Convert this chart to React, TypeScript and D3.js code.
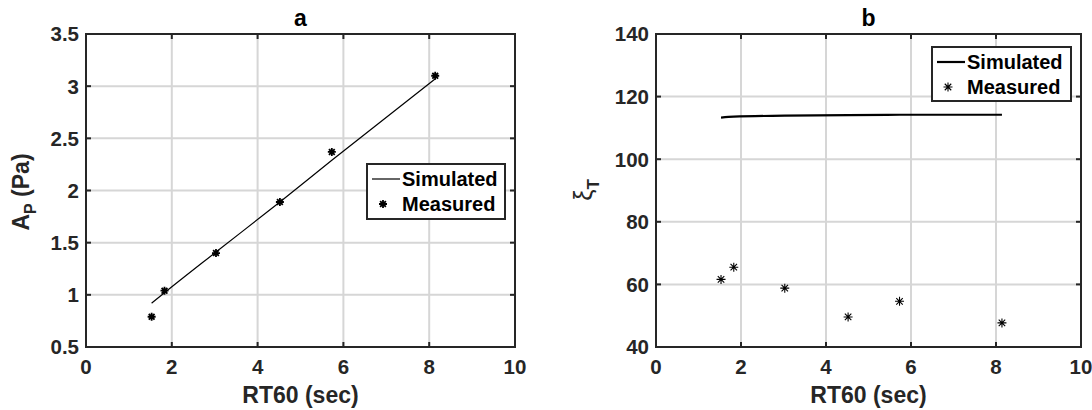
import React from 'react';
import * as d3 from 'd3';

// RT60 values (sec) shared by both panels
const rt60 = [1.53, 1.83, 3.03, 4.52, 5.73, 8.14];

// panel a: peak pressure amplitude (Pa)
const apMeasured = [0.79, 1.04, 1.40, 1.89, 2.37, 3.10];
const apSimulated = [0.92, 1.02, 1.41, 1.89, 2.29, 3.07];

// panel b: xi_T
const xiMeasured = [61.6, 65.5, 58.8, 49.6, 54.6, 47.7];
const xiSimulated = [113.3, 113.6, 113.9, 114.1, 114.2, 114.2];

const xTicks = [0, 2, 4, 6, 8, 10];
const apTicks = [0.5, 1, 1.5, 2, 2.5, 3, 3.5];
const xiTicks = [40, 60, 80, 100, 120, 140];

const FONT = '"Liberation Sans", Arial, Helvetica, sans-serif';
const INK = '#262626';

const star = (r: number) =>
  `M${-r},0H${r}M0,${-r}V${r}` +
  `M${-r * 0.72},${-r * 0.72}L${r * 0.72},${r * 0.72}` +
  `M${-r * 0.72},${r * 0.72}L${r * 0.72},${-r * 0.72}`;

type PanelProps = {
  left: number;
  right: number;
  title: string;
  yDomain: [number, number];
  yTicks: number[];
  yFmt: (v: number) => string;
  measured: number[];
  simulated: number[];
  lineWidth: number;
  markerR: number;
  markerW: number;
  legend: { x: number; y: number; w: number; h: number };
  yLabel: React.ReactNode;
};

const Panel = (p: PanelProps) => {
  const top = 34;
  const bottom = 347;
  const x = d3.scaleLinear().domain([0, 10]).range([p.left, p.right]);
  const y = d3.scaleLinear().domain(p.yDomain).range([bottom, top]);
  const line = d3
    .line<number>()
    .x((_, i) => x(rt60[i]))
    .y((d) => y(d))
    .curve(d3.curveMonotoneX);
  const tk = 5;
  const lg = p.legend;

  return (
    <g>
      {/* grid */}
      {xTicks.slice(1, -1).map((t) => (
        <line key={'gx' + t} x1={x(t)} x2={x(t)} y1={top} y2={bottom} stroke="#d6d6d6" strokeWidth={2} />
      ))}
      {p.yTicks.slice(1, -1).map((t) => (
        <line key={'gy' + t} x1={p.left} x2={p.right} y1={y(t)} y2={y(t)} stroke="#d6d6d6" strokeWidth={2} />
      ))}

      {/* data */}
      <path d={line(p.simulated) || ''} fill="none" stroke="#000" strokeWidth={p.lineWidth} />
      {p.measured.map((v, i) => (
        <path
          key={'m' + i}
          d={star(p.markerR)}
          transform={`translate(${x(rt60[i])},${y(v)})`}
          stroke="#000"
          strokeWidth={p.markerW}
          fill="none"
        />
      ))}

      {/* box + ticks */}
      <rect x={p.left} y={top} width={p.right - p.left} height={bottom - top} fill="none" stroke={INK} strokeWidth={2} />
      {xTicks.map((t) => (
        <g key={'tx' + t}>
          <line x1={x(t)} x2={x(t)} y1={bottom} y2={bottom - tk} stroke={INK} strokeWidth={2} />
          <line x1={x(t)} x2={x(t)} y1={top} y2={top + tk} stroke={INK} strokeWidth={2} />
          <text x={x(t)} y={374} textAnchor="middle" fontSize={20.5} fontWeight="bold" fill={INK}>
            {t}
          </text>
        </g>
      ))}
      {p.yTicks.map((t) => (
        <g key={'ty' + t}>
          <line x1={p.left} x2={p.left + tk} y1={y(t)} y2={y(t)} stroke={INK} strokeWidth={2} />
          <line x1={p.right} x2={p.right - tk} y1={y(t)} y2={y(t)} stroke={INK} strokeWidth={2} />
          <text x={p.left - 7} y={y(t)} dy="0.36em" textAnchor="end" fontSize={20.5} fontWeight="bold" fill={INK}>
            {p.yFmt(t)}
          </text>
        </g>
      ))}

      {/* labels */}
      <text x={(p.left + p.right) / 2} y={26} textAnchor="middle" fontSize={23} fontWeight="bold" fill="#000">
        {p.title}
      </text>
      <text x={(p.left + p.right) / 2} y={403} textAnchor="middle" fontSize={23} fontWeight="bold" fill={INK}>
        RT60 (sec)
      </text>
      {p.yLabel}

      {/* legend */}
      <rect x={lg.x} y={lg.y} width={lg.w} height={lg.h} fill="#fff" stroke={INK} strokeWidth={2} />
      <line x1={lg.x + 5} x2={lg.x + 33} y1={lg.y + 15} y2={lg.y + 15} stroke="#000" strokeWidth={p.lineWidth} />
      <path
        d={star(p.markerR)}
        transform={`translate(${lg.x + 16},${lg.y + 40})`}
        stroke="#000"
        strokeWidth={p.markerW}
        fill="none"
      />
      <text x={lg.x + 35} y={lg.y + 15} dy="0.36em" fontSize={20} fontWeight="bold" fill="#000">
        Simulated
      </text>
      <text x={lg.x + 35} y={lg.y + 40} dy="0.36em" fontSize={20} fontWeight="bold" fill="#000">
        Measured
      </text>
    </g>
  );
};

export default function App() {
  return (
    <svg width={1092} height={410} style={{ display: 'block', position: 'absolute', left: 0, top: 0 }} fontFamily={FONT}>
      <rect width={1092} height={410} fill="#fff" />
      <Panel
        left={86}
        right={515}
        title="a"
        yDomain={[0.5, 3.5]}
        yTicks={apTicks}
        yFmt={(v) => String(v)}
        measured={apMeasured}
        simulated={apSimulated}
        lineWidth={1.2}
        markerR={4}
        markerW={1.8}
        legend={{ x: 367, y: 164, w: 138, h: 55 }}
        yLabel={
          <text transform="translate(29,192) rotate(-90)" textAnchor="middle" fontSize={23} fontWeight="bold" fill={INK}>
            A<tspan fontSize={16} dy={7}>P</tspan>
            <tspan dy={-7}> (Pa)</tspan>
          </text>
        }
      />
      <Panel
        left={656}
        right={1081}
        title="b"
        yDomain={[40, 140]}
        yTicks={xiTicks}
        yFmt={(v) => String(v)}
        measured={xiMeasured}
        simulated={xiSimulated}
        lineWidth={2.2}
        markerR={4.5}
        markerW={1.1}
        legend={{ x: 932, y: 47, w: 139, h: 54 }}
        yLabel={
          <text transform="translate(592,190) rotate(-90)" textAnchor="middle" fontSize={25} fill={INK}>
            ξ<tspan fontSize={17} fontWeight="bold" dy={7}>T</tspan>
          </text>
        }
      />
    </svg>
  );
}
